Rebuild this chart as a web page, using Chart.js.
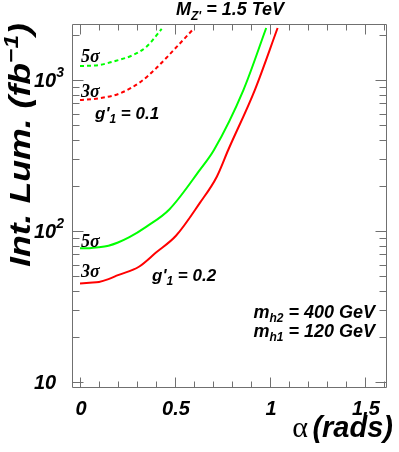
<!DOCTYPE html>
<html>
<head>
<meta charset="utf-8">
<script src="https://cdn.jsdelivr.net/npm/chart.js@4"></script>
<style>
  html, body { margin: 0; padding: 0; background: #fff; }
</style>
</head>
<body>
<canvas id="c" width="399" height="452"></canvas>
<script>
"use strict";
// alpha (rads) vs Int. Lum. (fb^-1)
const alpha5sG02 = [0, 0.05, 0.1, 0.15, 0.2, 0.26, 0.35, 0.47, 0.63, 0.705, 0.86, 0.98];
const lum5sG02   = [77, 77, 78, 80, 84, 91, 107, 139, 253, 344, 858, 2210];

const alpha3sG02 = [0, 0.05, 0.1, 0.15, 0.2, 0.31, 0.4, 0.505, 0.63, 0.72, 0.78, 0.92, 1.04];
const lum3sG02   = [45, 45.5, 46, 48, 51, 58, 72, 93, 153, 229, 344, 858, 2210];

const alpha5sG01 = [0.0, 0.1, 0.19, 0.28, 0.35, 0.43];
const lum5sG01   = [1238, 1257, 1342, 1465, 1663, 2180];

const alpha3sG01 = [0.0, 0.1, 0.21, 0.32, 0.4, 0.51, 0.6];
const lum3sG01   = [738, 757, 816, 975, 1195, 1663, 2200];

const xTickValues = [0, 0.5, 1, 1.5];
const xTickLabels = ["0", "0.5", "1", "1.5"];
const yTickValues = [10, 100, 1000];
const yTickExps = ["", "2", "3"];

const SANS = "'Liberation Sans', Arial, Helvetica, sans-serif";
const SERIF = "'Liberation Serif', 'Times New Roman', serif";
function bi(size) { return "italic bold " + size + "px " + SANS; }

function pts(xs, ys) {
  return xs.map((x, i) => ({ x: x, y: ys[i] }));
}

function runsWidth(ctx, runs) {
  let w = 0;
  runs.forEach(r => { ctx.font = r.f; w += ctx.measureText(r.t).width; });
  return w;
}

function drawRuns(ctx, x, y, runs) {
  ctx.textAlign = "left";
  ctx.textBaseline = "alphabetic";
  runs.forEach(r => {
    ctx.font = r.f;
    ctx.fillText(r.t, x, y + (r.dy || 0));
    x += ctx.measureText(r.t).width;
  });
  return x;
}

const rootFrame = {
  id: "rootFrame",
  beforeDatasetsDraw(chart) {
    const ctx = chart.ctx, a = chart.chartArea;
    const xs = chart.scales.x, ys = chart.scales.y;
    const L = Math.round(a.left) + 0.5, R = Math.round(a.right) + 0.5;
    const T = Math.round(a.top) + 0.5, B = Math.round(a.bottom) + 0.5;
    ctx.save();
    ctx.strokeStyle = "#707070";
    ctx.lineWidth = 1;
    ctx.beginPath();
    ctx.rect(L, T, R - L, B - T);
    for (let i = 0; i <= 16; i++) {
      const px = Math.round(xs.getPixelForValue(i / 10)) + 0.5;
      const len = (i % 5 === 0) ? 10 : 6;
      ctx.moveTo(px, B); ctx.lineTo(px, B - len);
      ctx.moveTo(px, T); ctx.lineTo(px, T + len);
    }
    for (let e = 1; e <= 3; e++) {
      for (let m = 1; m <= 9; m++) {
        const v = m * Math.pow(10, e);
        if (v > ys.max) continue;
        const py = Math.round(ys.getPixelForValue(v)) + 0.5;
        const len = (m === 1) ? 11 : 7;
        ctx.moveTo(L, py); ctx.lineTo(L + len, py);
        ctx.moveTo(R, py); ctx.lineTo(R - len, py);
      }
    }
    ctx.stroke();
    ctx.restore();
  },
  afterDraw(chart) {
    const ctx = chart.ctx;
    const xs = chart.scales.x, ys = chart.scales.y;
    ctx.save();
    ctx.fillStyle = "#000";

    // x tick labels
    ctx.font = bi(20);
    ctx.textAlign = "center";
    xTickValues.forEach((v, i) => {
      ctx.fillText(xTickLabels[i], xs.getPixelForValue(v) + 1, 415);
    });

    // y tick labels
    yTickValues.forEach((v, i) => {
      const py = ys.getPixelForValue(v) + 7;
      const runs = [{ t: "10", f: bi(20) }];
      if (yTickExps[i]) runs.push({ t: yTickExps[i], f: bi(14), dy: -10 });
      drawRuns(ctx, 34, py, runs);
    });

    // y title (stretched along its length like the original)
    ctx.save();
    ctx.translate(30, 267);
    ctx.rotate(-Math.PI / 2);
    ctx.scale(1.23, 1);
    drawRuns(ctx, 0, 0, [
      { t: "Int. Lum. (fb", f: bi(29) },
      { t: "\u22121", f: bi(20), dy: -12 },
      { t: ")", f: bi(29) }
    ]);
    ctx.restore();

    // x title
    const xt = [
      { t: "\u03b1", f: "30px " + SERIF },
      { t: " ", f: "16px " + SANS },
      { t: "(rads)", f: bi(29) }
    ];
    drawRuns(ctx, 393 - runsWidth(ctx, xt), 437, xt);

    // top title
    drawRuns(ctx, 176, 15, [
      { t: "M", f: bi(18) },
      { t: "Z'", f: bi(12), dy: 5 },
      { t: " = 1.5 TeV", f: bi(18) }
    ]);

    // significance labels
    ctx.font = "italic bold 18px " + SERIF;
    ctx.textAlign = "left";
    ctx.fillText("5\u03c3", 81, 62);
    ctx.fillText("3\u03c3", 81, 97);
    ctx.fillText("5\u03c3", 81, 247);
    ctx.fillText("3\u03c3", 81, 277);

    drawRuns(ctx, 95, 119, [
      { t: "g'", f: bi(17) }, { t: "1", f: bi(12), dy: 4 }, { t: " = 0.1", f: bi(17) }
    ]);
    drawRuns(ctx, 152, 281, [
      { t: "g'", f: bi(17) }, { t: "1", f: bi(12), dy: 4 }, { t: " = 0.2", f: bi(17) }
    ]);

    const mh2 = [{ t: "m", f: bi(18) }, { t: "h2", f: bi(12), dy: 4 }, { t: " = 400 GeV", f: bi(18) }];
    drawRuns(ctx, 375 - runsWidth(ctx, mh2), 318, mh2);
    const mh1 = [{ t: "m", f: bi(18) }, { t: "h1", f: bi(12), dy: 4 }, { t: " = 120 GeV", f: bi(18) }];
    drawRuns(ctx, 375 - runsWidth(ctx, mh1), 337, mh1);

    ctx.restore();
  }
};

const GREEN = "#00ff00";
const RED = "#ff0000";

new Chart(document.getElementById("c"), {
  type: "line",
  data: {
    datasets: [
      { data: pts(alpha5sG02, lum5sG02), borderColor: GREEN },
      { data: pts(alpha3sG02, lum3sG02), borderColor: RED },
      { data: pts(alpha5sG01, lum5sG01), borderColor: GREEN, borderDash: [4, 3] },
      { data: pts(alpha3sG01, lum3sG01), borderColor: RED, borderDash: [4, 3] }
    ]
  },
  options: {
    responsive: false,
    animation: false,
    devicePixelRatio: 1,
    layout: { padding: { left: 72, right: 13, top: 24, bottom: 65 } },
    elements: {
      point: { radius: 0 },
      line: { borderWidth: 2, tension: 0.2, cubicInterpolationMode: "monotone", fill: false }
    },
    scales: {
      x: { type: "linear", min: -0.0421, max: 1.6105, display: false },
      y: { type: "logarithmic", min: 9.27, max: 2350, display: false }
    },
    plugins: { legend: { display: false }, tooltip: { enabled: false } }
  },
  plugins: [rootFrame]
});
</script>
</body>
</html>
